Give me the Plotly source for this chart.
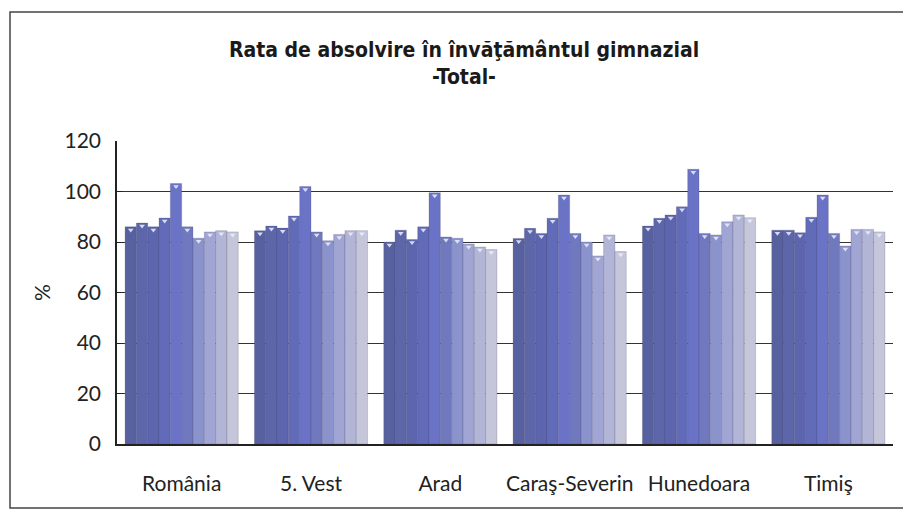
import plotly.graph_objects as go

# Regions on the x axis
regions = ["România", "5. Vest", "Arad", "Caraş-Severin", "Hunedoara", "Timiş"]

# One series per school year (no legend in the original)
years = ["1998/1999", "1999/2000", "2000/2001", "2001/2002", "2002/2003",
         "2003/2004", "2004/2005", "2005/2006", "2006/2007", "2007/2008"]

# Graduation rate (%) per year, in region order
y1998 = [86.0, 84.5, 80.0, 81.4, 86.3, 84.7]
y1999 = [87.5, 86.3, 84.7, 85.4, 89.4, 84.7]
y2000 = [86.0, 85.5, 81.0, 83.4, 90.7, 83.7]
y2001 = [89.5, 90.3, 86.0, 89.4, 94.0, 89.8]
y2002 = [103.2, 102.0, 99.5, 98.6, 108.8, 98.6]
y2003 = [86.0, 84.0, 82.0, 83.4, 83.4, 83.4]
y2004 = [81.5, 80.5, 81.5, 80.0, 82.8, 78.4]
y2005 = [84.0, 83.0, 79.2, 74.5, 88.0, 85.0]
y2006 = [84.5, 84.5, 78.0, 82.8, 90.7, 85.0]
y2007 = [84.0, 84.5, 77.0, 76.2, 89.6, 84.0]

series = [y1998, y1999, y2000, y2001, y2002, y2003, y2004, y2005, y2006, y2007]

colors = ["#58619f", "#5d66a8", "#5c65ad", "#626bb8", "#6a73c6",
          "#7079bd", "#8b93cc", "#a0a5d3", "#b3b5d6", "#c6c6da"]

fig = go.Figure()
for name, vals, col in zip(years, series, colors):
    fig.add_trace(go.Bar(
        x=regions, y=vals, name=name,
        marker=dict(color=col, line=dict(color="rgba(60,60,90,0.35)", width=0.6)),
        hovertemplate="%{x}: %{y:.1f}%<extra>" + name + "</extra>",
    ))

# white notch at each bar top, aligned with the grouped bars
for name, vals in zip(years, series):
    fig.add_trace(go.Scatter(
        x=regions, y=[v - 1.2 for v in vals], mode="markers",
        marker=dict(symbol="triangle-down", size=5, color="rgba(235,238,255,0.85)"),
        hoverinfo="skip", showlegend=False,
    ))

# the page body adds an 8px margin, so the figure is 8px smaller
fig.update_layout(
    width=903, height=512,
    barmode="group", bargap=0.125, bargroupgap=0,
    scattermode="group", scattergap=0.125,
    showlegend=False,
    paper_bgcolor="white", plot_bgcolor="white",
    margin=dict(l=109, r=18, t=133, b=76),
    title=dict(
        text="Rata de absolvire în învăţământul gimnazial<br>-Total-",
        x=0.505, xanchor="center", y=0.905, yanchor="top",
        font=dict(family="Liberation Sans Narrow, Arial Narrow, DejaVu Sans Condensed, Arial",
                  size=21, color="#1a1a1a", weight="bold"),
    ),
    font=dict(family="Lato, Calibri, Open Sans", color="#222"),
    xaxis=dict(
        showline=True, linecolor="#222", linewidth=1.5, ticks="",
        tickfont=dict(size=21), showgrid=False, mirror=False,
        ticklabelstandoff=20,
    ),
    yaxis=dict(
        range=[0, 120], dtick=20, showline=True, linecolor="#222", linewidth=1.5,
        ticks="inside", ticklen=6, tickcolor="#222",
        showgrid=True, gridcolor="#333", gridwidth=1,
        tickfont=dict(size=21), zeroline=False, ticklabelstandoff=10,
        title=dict(text="%", font=dict(size=21), standoff=8),
    ),
    shapes=[dict(
        type="rect", xref="paper", yref="paper",
        x0=(10 - 117) / 776, x1=(907 - 117) / 776,
        y0=(444 - 508) / 303, y1=(444 - 12) / 303,
        line=dict(color="#444", width=1.5), fillcolor="rgba(0,0,0,0)", layer="below",
    )],
)

fig.write_html("out.html")
